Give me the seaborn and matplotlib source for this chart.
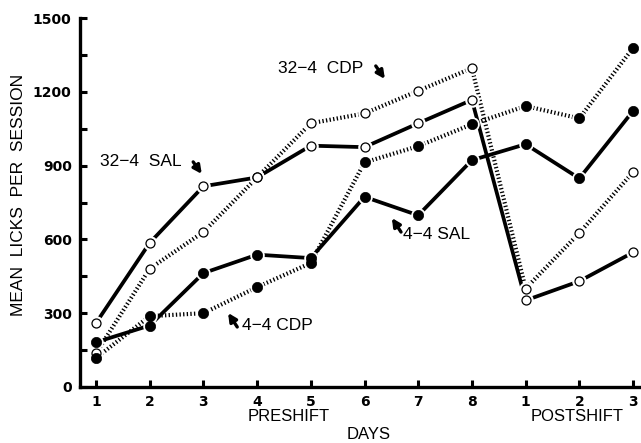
import matplotlib
matplotlib.use("Agg")
import matplotlib.pyplot as plt
import seaborn as sns
import pandas as pd

# ---------------- data ----------------
days = [1, 2, 3, 4, 5, 6, 7, 8, 9, 10, 11]
day_labels = ["1", "2", "3", "4", "5", "6", "7", "8", "1", "2", "3"]
sal_32_4 = [260, 586, 816, 852, 981, 975, 1072, 1167, 352, 430, 547]
cdp_32_4 = [137, 481, 630, 852, 1072, 1112, 1204, 1296, 400, 626, 873]
sal_4_4 = [182, 250, 463, 538, 524, 773, 698, 922, 987, 848, 1122]
cdp_4_4 = [118, 288, 300, 406, 504, 913, 979, 1068, 1142, 1092, 1378]
group_names = ["32-4 SAL", "32-4 CDP", "4-4 SAL", "4-4 CDP"]
y_ticks = [0, 300, 600, 900, 1200, 1500]
y_minor = [150, 450, 750, 1050, 1350]

df = pd.DataFrame({
    "day": days * 4,
    "licks": sal_32_4 + cdp_32_4 + sal_4_4 + cdp_4_4,
    "group": sum([[g] * len(days) for g in group_names], []),
})

sns.set_style("ticks")
plt.rcParams["font.family"] = ["Liberation Sans", "DejaVu Sans"]
for key in ["text.color", "axes.labelcolor", "xtick.color", "ytick.color",
            "axes.edgecolor"]:
    plt.rcParams[key] = "black"

fig = plt.figure(figsize=(6.41, 4.43), dpi=100)
ax = fig.add_axes([80 / 641, 1 - 387 / 443, 561 / 641, 369 / 443])

solid = "-"
dotted = (0, (0.32, 0.55))
styles = {
    "32-4 SAL": dict(ls=solid, filled=False),
    "32-4 CDP": dict(ls=dotted, filled=False),
    "4-4 SAL": dict(ls=solid, filled=True),
    "4-4 CDP": dict(ls=dotted, filled=True),
}

for g in group_names:
    sub = df[df["group"] == g]
    st = styles[g]
    lw = 2.7 if st["ls"] == solid else 3.0
    sns.lineplot(data=sub, x="day", y="licks", ax=ax, color="black",
                 linewidth=lw, linestyle=st["ls"], dash_capstyle="butt",
                 errorbar=None, sort=False, legend=False, zorder=2)

for g in group_names:
    sub = df[df["group"] == g]
    # white halo to create small gaps around markers
    sns.scatterplot(data=sub, x="day", y="licks", ax=ax, color="white",
                    s=110, linewidth=0, marker="o", legend=False, zorder=3)

for g in group_names:
    sub = df[df["group"] == g]
    st = styles[g]
    if st["filled"]:
        sns.scatterplot(data=sub, x="day", y="licks", ax=ax, color="black",
                        edgecolor="black", s=55, linewidth=0.5, marker="o",
                        legend=False, zorder=4)
    else:
        sns.scatterplot(data=sub, x="day", y="licks", ax=ax, color="white",
                        edgecolor="black", s=42, linewidth=0.9, marker="o",
                        legend=False, zorder=4)

ax.set_xlim(0.702, 11.149)
ax.set_ylim(0, 1500)
ax.set_xticks(days)
ax.set_xticklabels(day_labels)
ax.set_yticks(y_ticks)
ax.set_yticks(y_minor, minor=True)
sns.despine(ax=ax)
for side in ["left", "bottom"]:
    ax.spines[side].set_linewidth(2.4)
    ax.spines[side].set_color("black")
ax.tick_params(axis="both", which="both", direction="in", length=5, width=2.2,
               color="black")
ax.tick_params(axis="y", which="major", pad=6)
ax.tick_params(axis="x", which="major", pad=6)
for lbl in ax.get_xticklabels() + ax.get_yticklabels():
    lbl.set_fontfamily(["DejaVu Sans"])
    lbl.set_fontweight("bold")
    lbl.set_fontsize(10)
    lbl.set_color("black")

ax.set_xlabel("")
ax.set_ylabel("MEAN  LICKS  PER  SESSION", fontsize=12.5, color="black")
ax.yaxis.set_label_coords(-0.097, 0.52)

tr = ax.get_xaxis_transform()
ax.text(4.58, -0.081, "PRESHIFT", transform=tr, ha="center", va="center", fontsize=12)
ax.text(9.96, -0.081, "POSTSHIFT", transform=tr, ha="center", va="center", fontsize=12)
ax.text(6.07, -0.130, "DAYS", transform=tr, ha="center", va="center", fontsize=12)

m = "\u2212"
ax.text(1.07, 915, f"32{m}4  SAL", ha="left", va="center", fontsize=12.5)
ax.text(4.39, 1293, f"32{m}4  CDP", ha="left", va="center", fontsize=12.5)
ax.text(6.72, 618, f"4{m}4 SAL", ha="left", va="center", fontsize=12.5)
ax.text(3.72, 248, f"4{m}4 CDP", ha="left", va="center", fontsize=12.5)

arrow = dict(arrowstyle="-|>", color="black", lw=2.4, mutation_scale=12,
             shrinkA=0, shrinkB=0)
ax.annotate("", xy=(2.97, 866), xytext=(2.81, 915), arrowprops=arrow)
ax.annotate("", xy=(6.38, 1252), xytext=(6.21, 1305), arrowprops=arrow)
ax.annotate("", xy=(6.51, 687), xytext=(6.68, 630), arrowprops=arrow)
ax.annotate("", xy=(3.46, 301), xytext=(3.63, 244), arrowprops=arrow)

fig.savefig("out.png", dpi=100)
